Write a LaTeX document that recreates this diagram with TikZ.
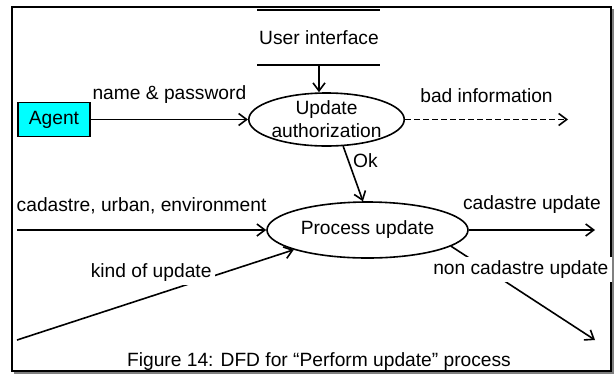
\documentclass[tikz,border=0pt]{standalone}
\usepackage{fontspec}
\setmainfont{Liberation Sans}
\usepackage{tikz}
\usetikzlibrary{arrows.meta,shapes,calc}
\definecolor{agentcyan}{RGB}{0,255,255}

\begin{document}
\begin{tikzpicture}[x=0.5pt,y=-0.5pt,font=\fontsize{9.6}{11.5}\selectfont,
  >={Straight Barb[length=4pt,width=6pt]},
  proc/.style={draw,ellipse,inner sep=0pt,line width=0.8pt,align=center},
  flow/.style={->,line width=0.8pt},
  lbl/.style={fill=white,inner sep=2pt}]
\useasboundingbox (0,0) rectangle (614,376);
%frame
\draw[gray,line width=1pt] (14,373) -- (613,373) -- (613,9);
\draw[line width=1pt] (12,7) rectangle (611,371);
%data store
\draw[line width=1pt] (257,10) -- (380,10);
\draw[line width=1pt] (257,65) -- (380,65);
\node (ui) at (319,38) {User interface};
\coordinate (uib) at (319,65);
%processes and agent
\node[proc,minimum width=76.5pt,minimum height=26.5pt] (auth) at (326.5,119.5) {Update\\authorization};
\node[proc,minimum width=100.5pt,minimum height=28pt] (upd) at (367.5,230) {Process update};
\node[draw,line width=0.8pt,fill=agentcyan,minimum width=36pt,minimum height=17pt,inner sep=0pt] (agent) at (54,119.5) {Agent};
%free ends
\coordinate (bad) at (568,119.5);
\coordinate (cin) at (17,230);
\coordinate (kin) at (17,340);
\coordinate (cout) at (595,230);
\coordinate (ncout) at (595,340);
%flows
\draw[flow] (uib) -- (uib |- auth.north);
\draw[flow] (agent) -- node[above=4.5pt] {name \& password} (auth);
\draw[flow,dash pattern=on 3pt off 1.5pt] (auth) -- node[above=4.5pt] {bad information} (bad);
\draw[flow] (auth.-58) -- node[right,pos=0.26,inner sep=2pt] {Ok} (upd.99);
\draw[flow] (cin) -- node[above=4.5pt] {cadastre, urban, environment} (upd);
\draw[flow] (kin) -- node[lbl,pos=0.72,anchor=east,yshift=1.25pt] {kind of update} (upd.195);
\draw[flow] (upd) -- node[above=4.5pt] {cadastre update} (cout);
\draw[flow] (upd.-11) -- node[lbl,pos=0.248,xshift=17pt] {non cadastre update} (ncout);
%caption
\node (cap) at (319,361.5) {Figure 14: DFD for “Perform update” process};
\end{tikzpicture}
\end{document}
